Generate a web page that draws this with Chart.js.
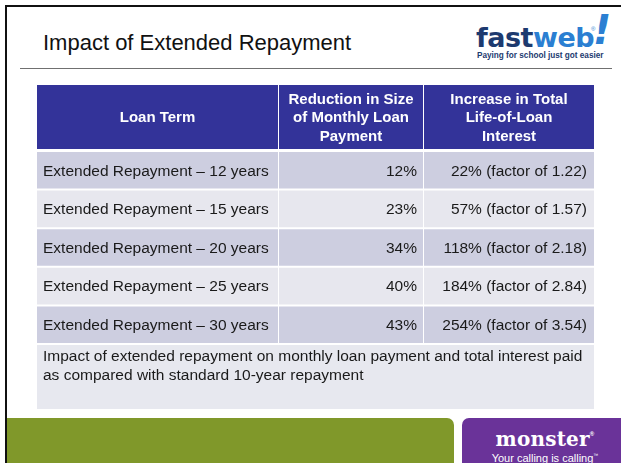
<!DOCTYPE html>
<html>
<head>
<meta charset="utf-8">
<script src="https://cdn.jsdelivr.net/npm/chart.js@4.4.1/dist/chart.umd.min.js"></script>
<style>
  html, body { margin: 0; padding: 0; background: #fff; }
  #slide { position: relative; width: 621px; height: 463px; overflow: hidden; background: #fff;
           font-family: "Liberation Sans", Arial, sans-serif; }
  .frame-top { position: absolute; left: 5px; top: 5px; width: 616px; height: 2px; background: #111; }
  .frame-left { position: absolute; left: 5px; top: 5px; width: 2px; height: 458px; background: #111; }
  #title { position: absolute; left: 43px; top: 32px; font-size: 22px; line-height: 22px; color: #111; white-space: nowrap; }
  #rule { position: absolute; left: 20px; top: 68px; width: 592px; height: 1px; background: #707070; }
  #logo { position: absolute; left: 476px; top: 23px; width: 145px; height: 40px; }
  #logo .word { position: absolute; left: 0; top: 0; font-family: "DejaVu Sans", sans-serif; font-weight: bold;
                font-size: 27px; line-height: 30px; letter-spacing: -0.5px; white-space: nowrap; }
  #logo .fast { color: #1d3a6f; }
  #logo .web { color: #2b7fd2; }
  #logo .reg { position: absolute; left: 115px; top: 3px; font-size: 6px; color: #2b7fd2; }
  #logo .bang { position: absolute; left: 117px; top: -15px; font-family: "DejaVu Sans", sans-serif; font-weight: bold;
                font-style: italic; font-size: 40px; line-height: 44px; color: #2b7fd2; }
  #logo .tag { position: absolute; left: 1px; top: 28px; font-weight: bold; font-size: 8.2px; line-height: 10px;
               color: #1d3a6f; white-space: nowrap; }
  #table { position: absolute; left: 37px; top: 85px; }
  #green { position: absolute; left: 7px; top: 418px; width: 447px; height: 45px; background: #80982a;
           border-top-right-radius: 7px; }
  #monster { position: absolute; left: 462px; top: 418px; width: 159px; height: 45px; background: #6a3399;
             border-top-left-radius: 7px; color: #fff; text-align: center; }
  #monster .name { position: absolute; left: 0; width: 166px; top: 5px; font-family: "DejaVu Serif", serif; font-weight: bold;
                   font-size: 20px; line-height: 22px; letter-spacing: 0.2px; }
  #monster .name sup { font-size: 6px; font-family: "Liberation Sans", sans-serif; vertical-align: 10px; }
  #monster .tag { position: absolute; left: 0; width: 166px; top: 31px; font-size: 11px; line-height: 13px; }
  #monster .tag sup { font-size: 5px; vertical-align: 5px; }
</style>
</head>
<body>
<div id="slide">
  <div class="frame-top"></div>
  <div class="frame-left"></div>
  <div id="title">Impact of Extended Repayment</div>
  <div id="rule"></div>
  <div id="logo">
    <div class="word"><span class="fast">fast</span><span class="web">web</span></div>
    <div class="reg">®</div>
    <div class="bang">!</div>
    <div class="tag">Paying for school just got easier</div>
  </div>
  <canvas id="table" width="557" height="324"></canvas>
  <div id="green"></div>
  <div id="monster">
    <div class="name">monster<sup>®</sup></div>
    <div class="tag">Your calling is calling<sup>™</sup></div>
  </div>
</div>
<script>
'use strict';
        // Table data
        const loanTerms = [
            'Extended Repayment – 12 years',
            'Extended Repayment – 15 years',
            'Extended Repayment – 20 years',
            'Extended Repayment – 25 years',
            'Extended Repayment – 30 years'
        ];
        const paymentReduction = [12, 23, 34, 40, 43];
        const interestIncrease = [22, 57, 118, 184, 254];
        const interestFactor = [1.22, 1.57, 2.18, 2.84, 3.54];
        const headerLines = [
            ['Loan Term'],
            ['Reduction in Size', 'of Monthly Loan', 'Payment'],
            ['Increase in Total', 'Life-of-Loan', 'Interest']
        ];
        const captionLines = [
            'Impact of extended repayment on monthly loan payment and total interest paid',
            'as compared with standard 10-year repayment'
        ];

        // Layout (column edges on the x scale, in px)
        const colEdges = [0, 242, 387, 557];
        const rowColors = ['#cdcee0', '#e7e7ee'];
        const headerColor = '#333399';
        const captionColor = '#e7e8ef';
        const bodyFont = '15.5px "Liberation Sans", Arial, sans-serif';
        const headerFont = 'bold 15px "Liberation Sans", Arial, sans-serif';

        const cellTexts = [
            loanTerms,
            paymentReduction.map(v => `${v}%`),
            interestIncrease.map((v, i) => `${v}% (factor of ${interestFactor[i].toFixed(2)})`)
        ];

        const tablePlugin = {
            id: 'tablePlugin',
            beforeDatasetsDraw(chart) {
                const ctx = chart.ctx;
                const x = chart.scales.x;
                const area = chart.chartArea;
                ctx.save();
                // header
                const headH = area.top - 2;
                headerLines.forEach((lines, c) => {
                    const left = x.getPixelForValue(colEdges[c]);
                    const right = x.getPixelForValue(colEdges[c + 1]) - (c < 2 ? 1 : 0);
                    ctx.fillStyle = headerColor;
                    ctx.fillRect(left, 0, right - left, headH);
                    ctx.fillStyle = '#ffffff';
                    ctx.font = headerFont;
                    ctx.textAlign = 'center';
                    ctx.textBaseline = 'middle';
                    const lh = 18.5;
                    const mid = headH / 2 + 1;
                    lines.forEach((t, k) => {
                        ctx.fillText(t, (left + right) / 2, mid + (k - (lines.length - 1) / 2) * lh);
                    });
                });
                // caption
                const capTop = area.bottom + 1;
                const left = x.getPixelForValue(colEdges[0]);
                const right = x.getPixelForValue(colEdges[colEdges.length - 1]);
                ctx.fillStyle = captionColor;
                ctx.fillRect(left, capTop, right - left, chart.height - capTop);
                ctx.fillStyle = '#1a1a1a';
                ctx.font = bodyFont;
                ctx.textAlign = 'left';
                ctx.textBaseline = 'middle';
                captionLines.forEach((t, k) => {
                    ctx.fillText(t, left + 6, capTop + 12 + k * 19);
                });
                ctx.restore();
            },
            afterDatasetsDraw(chart) {
                const ctx = chart.ctx;
                ctx.save();
                ctx.font = bodyFont;
                ctx.fillStyle = '#1a1a1a';
                ctx.textBaseline = 'middle';
                chart.data.datasets.forEach((ds, c) => {
                    chart.getDatasetMeta(c).data.forEach((bar, r) => {
                        const text = cellTexts[c][r];
                        if (c === 0) {
                            ctx.textAlign = 'left';
                            ctx.fillText(text, bar.base + 6, bar.y + 1);
                        } else {
                            ctx.textAlign = 'right';
                            ctx.fillText(text, bar.x - 7, bar.y + 1);
                        }
                    });
                });
                ctx.restore();
            }
        };

        const ctx = document.getElementById('table').getContext('2d');
        new Chart(ctx, {
            type: 'bar',
            data: {
                labels: loanTerms,
                datasets: cellTexts.map((_, c) => ({
                    data: loanTerms.map(() => [colEdges[c], colEdges[c + 1]]),
                    backgroundColor: loanTerms.map((_, r) => rowColors[r % 2]),
                    borderColor: '#ffffff',
                    borderWidth: { top: 1, bottom: 1, left: 0, right: c < 2 ? 1 : 0 },
                    borderSkipped: false,
                    grouped: false,
                    barPercentage: 1,
                    categoryPercentage: 1,
                    inflateAmount: 0
                }))
            },
            options: {
                indexAxis: 'y',
                responsive: false,
                animation: false,
                events: [],
                layout: { padding: { top: 66, bottom: 65, left: 0, right: 0 } },
                scales: {
                    x: { type: 'linear', min: colEdges[0], max: colEdges[colEdges.length - 1], display: false },
                    y: { type: 'category', display: false, offset: true }
                },
                plugins: {
                    legend: { display: false },
                    tooltip: { enabled: false }
                }
            },
            plugins: [tablePlugin]
        });
</script>
</body>
</html>
